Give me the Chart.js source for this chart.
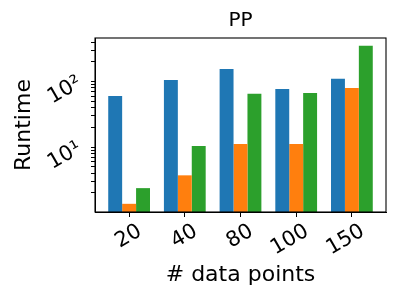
<!DOCTYPE html>
<html>
<head>
<meta charset="utf-8">
<script src="https://cdn.jsdelivr.net/npm/chart.js@4/dist/chart.umd.min.js"></script>
<style>
    html, body { margin: 0; padding: 0; background: #fff; }
    #wrap { width: 400px; height: 300px; }
</style>
</head>
<body>
<div id="wrap"><canvas id="ppChart"></canvas></div>
<script>
// Chart values
const categories = ['20', '40', '80', '100', '150'];
const blueSeries = [60, 106, 156, 77, 110];
const orangeSeries = [1.36, 3.7, 11.1, 11.1, 80];
const greenSeries = [2.36, 10.4, 65, 67, 352];
const yTickValues = [2, 3, 4, 5, 6, 7, 8, 9, 10, 20, 30, 40, 50, 60, 70, 80, 90, 100, 200, 300, 400];
const yLabelled = { 10: '10¹', 100: '10²' };

const toPoints = arr => arr.map((v, i) => ({ x: i, y: v }));

// Draw the full box round the plot, like the matplotlib spines
const frame = {
    id: 'frame',
    afterDraw(chart) {
        const { ctx, chartArea: a } = chart;
        ctx.save();
        ctx.strokeStyle = '#000';
        ctx.lineWidth = 1.1;
        ctx.strokeRect(a.left, a.top, a.right - a.left, a.bottom - a.top);
        ctx.restore();
    }
};

const tickFont = { family: 'DejaVu Sans', size: 21 };

new Chart(document.getElementById('ppChart').getContext('2d'), {
    type: 'bar',
    data: {
        datasets: [
            { label: 'a', data: toPoints(blueSeries), backgroundColor: '#1f77b4' },
            { label: 'b', data: toPoints(orangeSeries), backgroundColor: '#ff7f0e' },
            { label: 'c', data: toPoints(greenSeries), backgroundColor: '#2ca02c' }
        ]
    },
    options: {
        responsive: true,
        maintainAspectRatio: false,
        animation: false,
        layout: { padding: { left: 0, right: 14, top: 0, bottom: 0 } },
        datasets: { bar: { barPercentage: 1, categoryPercentage: 0.75, borderWidth: 0 } },
        plugins: {
            legend: { display: false },
            tooltip: { enabled: false },
            title: {
                display: true,
                fullSize: false,
                text: 'PP',
                color: '#000',
                font: { family: 'DejaVu Sans', size: 20, weight: 'normal' },
                padding: { top: 9, bottom: 5 }
            }
        },
        scales: {
            x: {
                type: 'linear',
                min: -0.6125,
                max: 4.6125,
                offset: false,
                grid: { drawOnChartArea: false, offset: false, color: '#000', tickLength: 5, tickWidth: 1 },
                border: { color: '#000', width: 1 },
                afterBuildTicks: scale => {
                    scale.ticks = categories.map((c, i) => ({ value: i }));
                },
                afterFit: scale => { scale.height = 88; },
                ticks: {
                    color: '#000',
                    font: tickFont,
                    minRotation: 30,
                    maxRotation: 30,
                    padding: 2,
                    labelOffset: 11,
                    callback: v => categories[v]
                },
                title: {
                    display: true,
                    text: '# data points',
                    color: '#000',
                    font: { family: 'DejaVu Sans', size: 22 },
                    padding: { top: 0, bottom: 12 }
                }
            },
            y: {
                type: 'logarithmic',
                min: 1.02,
                max: 462,
                grid: { drawOnChartArea: false, color: '#000', tickLength: 4, tickWidth: 1 },
                border: { color: '#000', width: 1 },
                afterBuildTicks: scale => {
                    scale.ticks = yTickValues.map(v => ({ value: v, major: v in yLabelled }));
                },
                afterFit: scale => { scale.width = 95; },
                ticks: {
                    color: '#000',
                    font: tickFont,
                    minRotation: 30,
                    maxRotation: 30,
                    padding: 11,
                    autoSkip: false,
                    callback: v => yLabelled[v] || ''
                },
                title: {
                    display: true,
                    text: 'Runtime',
                    color: '#000',
                    font: { family: 'DejaVu Sans', size: 22 },
                    padding: { top: 11, bottom: 0 }
                }
            }
        }
    },
    plugins: [frame]
});
</script>
</body>
</html>
